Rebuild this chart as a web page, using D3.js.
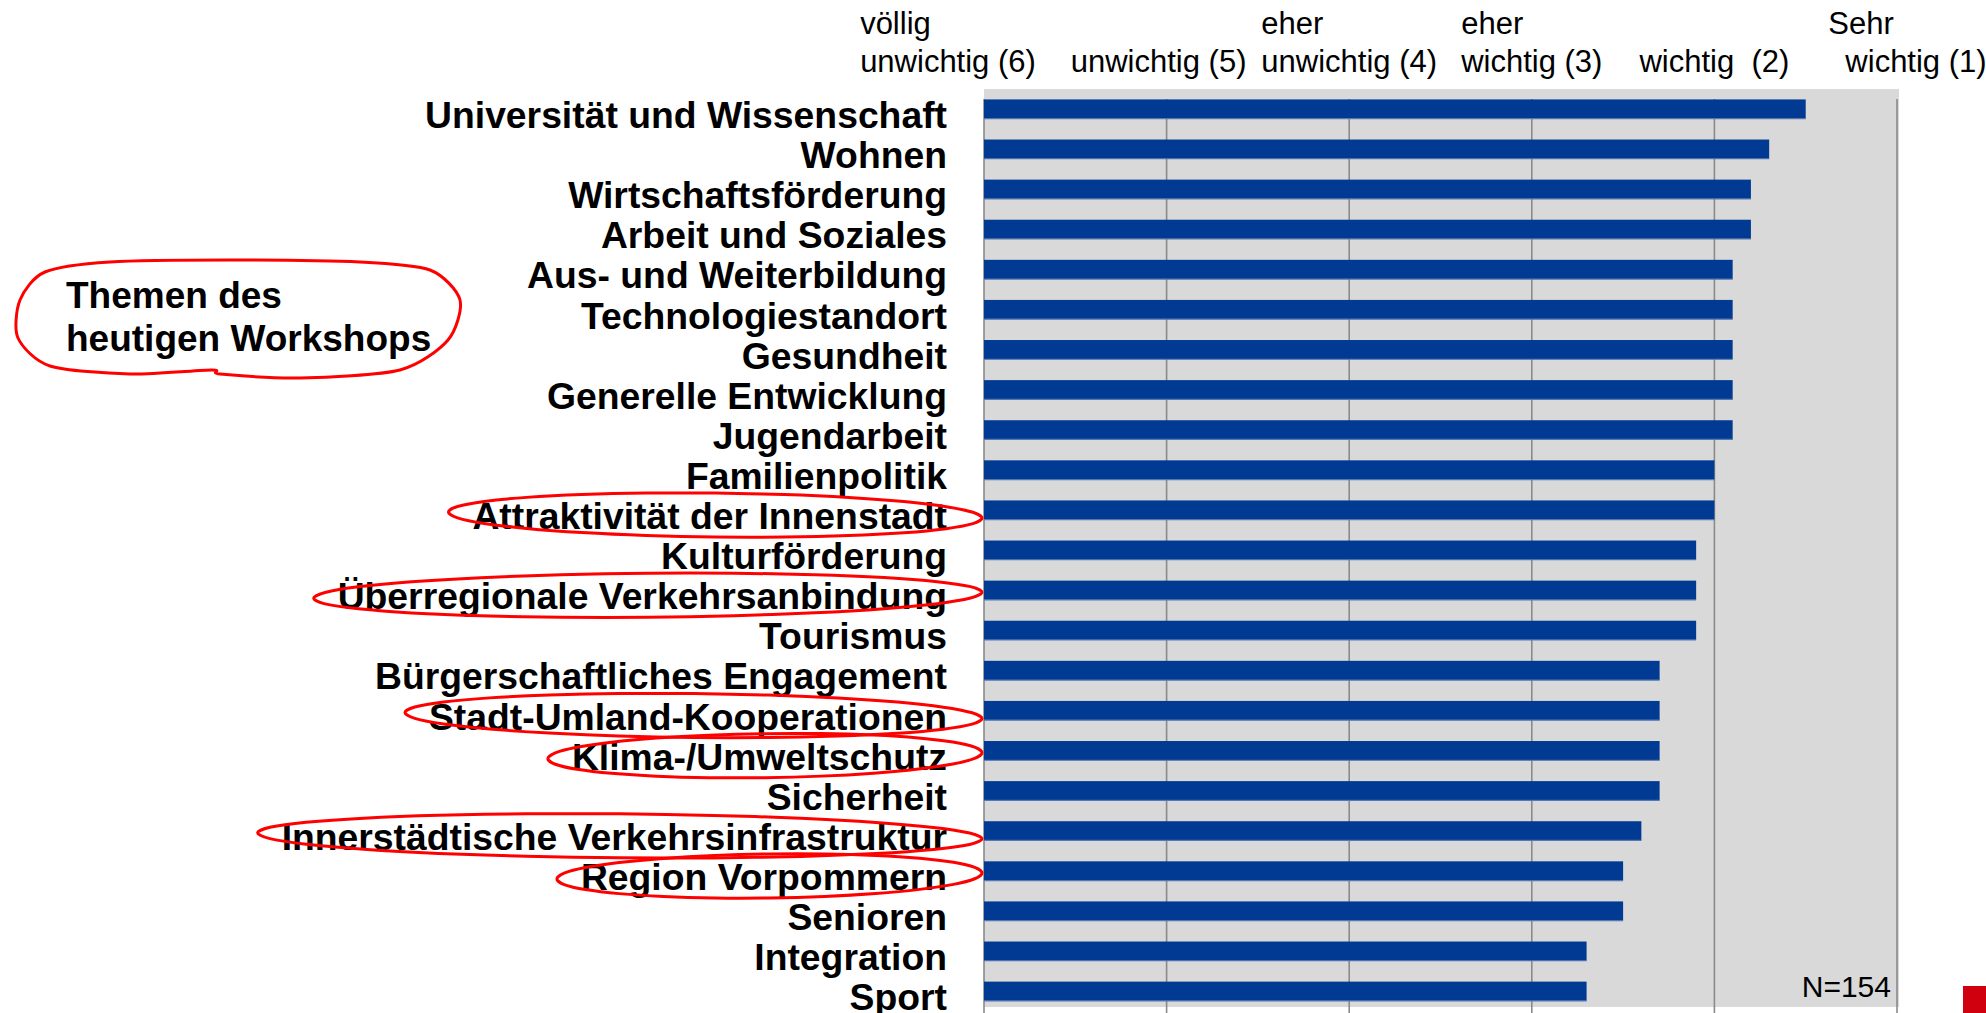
<!DOCTYPE html>
<html>
<head>
<meta charset="utf-8">
<script src="https://cdn.jsdelivr.net/npm/d3@7"></script>
<style>
  html, body { margin: 0; padding: 0; background: #fff; overflow: hidden; }
  svg { display: block; font-family: "Liberation Sans", Arial, sans-serif; }
</style>
</head>
<body>
<svg id="chart"></svg>
<script>
// survey data: mean rating per topic (1 = sehr wichtig ... 6 = völlig unwichtig)
var categories = [
	'Universität und Wissenschaft', 'Wohnen', 'Wirtschaftsförderung', 'Arbeit und Soziales',
	'Aus- und Weiterbildung', 'Technologiestandort', 'Gesundheit', 'Generelle Entwicklung',
	'Jugendarbeit', 'Familienpolitik', 'Attraktivität der Innenstadt', 'Kulturförderung',
	'Überregionale Verkehrsanbindung', 'Tourismus', 'Bürgerschaftliches Engagement',
	'Stadt-Umland-Kooperationen', 'Klima-/Umweltschutz', 'Sicherheit',
	'Innerstädtische Verkehrsinfrastruktur', 'Region Vorpommern', 'Senioren', 'Integration', 'Sport'
];
var values = [1.5, 1.7, 1.8, 1.8, 1.9, 1.9, 1.9, 1.9, 1.9, 2.0, 2.0, 2.1, 2.1, 2.1, 2.3, 2.3, 2.3, 2.3, 2.4, 2.5, 2.5, 2.7, 2.7];

var tickValues = [6, 5, 4, 3, 2, 1];
var tickLabels = [
	['völlig', 'unwichtig (6)'],
	['', 'unwichtig (5)'],
	['eher', 'unwichtig (4)'],
	['eher', 'wichtig (3)'],
	['', 'wichtig  (2)'],
	['Sehr', 'wichtig (1)']
];

var workshopTopics = [
	'Attraktivität der Innenstadt', 'Überregionale Verkehrsanbindung', 'Stadt-Umland-Kooperationen',
	'Klima-/Umweltschutz', 'Innerstädtische Verkehrsinfrastruktur', 'Region Vorpommern'
];
var noteLines = ['Themen des', 'heutigen Workshops'];
var sampleNote = 'N=154';

var width = 1986;
var height = 1013;

var plot = {left: 984, right: 1897, top: 89, bottom: 1007};

var chart = d3.select('#chart')
	.attr('width', width)
	.attr('height', height);

var x = d3.scaleLinear()
	.domain([6, 1])
	.range([plot.left, plot.right]);

var y = d3.scaleBand()
	.domain(categories)
	.range([plot.top, plot.top + 23 * 40.1])
	.paddingInner(0.52)
	.paddingOuter(0.26);

// background
chart.append('rect')
	.attr('x', plot.left)
	.attr('y', plot.top)
	.attr('width', plot.right - plot.left + 2)
	.attr('height', plot.bottom - plot.top)
	.style('fill', '#d9d9d9');

// grid lines
chart.selectAll('line.grid')
	.data(tickValues)
	.enter()
	.append('line')
	.attr('class', 'grid')
	.attr('x1', function(d) { return x(d); })
	.attr('x2', function(d) { return x(d); })
	.attr('y1', plot.top + 10)
	.attr('y2', height)
	.style('stroke', '#8a8a8a')
	.style('stroke-width', 1.6);

// bars
var bars = chart.selectAll('g.bar')
	.data(categories)
	.enter()
	.append('g')
	.attr('class', 'bar');

bars.append('rect')
	.attr('x', x(6))
	.attr('y', function(d) { return y(d); })
	.attr('width', function(d, i) { return x(values[i]) - x(6); })
	.attr('height', y.bandwidth())
	.style('fill', '#003a92');

bars.append('line')
	.attr('x1', x(6))
	.attr('x2', function(d, i) { return x(values[i]); })
	.attr('y1', function(d) { return y(d) + y.bandwidth(); })
	.attr('y2', function(d) { return y(d) + y.bandwidth(); })
	.style('stroke', '#5677b4')
	.style('stroke-width', 1.2);

// category labels
var labels = chart.selectAll('text.cat')
	.data(categories)
	.enter()
	.append('text')
	.attr('class', 'cat')
	.attr('x', 947)
	.attr('y', function(d) { return y(d) + y.bandwidth() / 2 + 19; })
	.attr('text-anchor', 'end')
	.style('font-weight', 'bold')
	.style('font-size', '37.3px')
	.style('fill', '#000')
	.text(function(d) { return d; });

// scale labels on top
var tickGroups = chart.selectAll('g.tick-label')
	.data(tickValues)
	.enter()
	.append('g')
	.attr('class', 'tick-label');

tickGroups.each(function(d, i) {
	var g = d3.select(this);
	var lines = tickLabels[i];
	var t2 = g.append('text')
		.attr('y', 72)
		.style('font-size', '31px')
		.style('white-space', 'pre')
		.text(lines[1]);
	var w = t2.node().getComputedTextLength();
	var start = x(d) - w / 2;
	// the text boxes on the slide were placed by hand
	if (i === 0) start -= 36;
	if (i === 1) start -= 8;
	if (i === 5) start += 19;
	t2.attr('x', start);
	g.append('text')
		.attr('x', start + (i === 5 ? -17 : 0))
		.attr('y', 34)
		.style('font-size', '31px')
		.text(lines[0]);
});

// sample size
chart.append('text')
	.attr('x', 1891)
	.attr('y', 997)
	.attr('text-anchor', 'end')
	.style('font-size', '30px')
	.text(sampleNote);

// red marker at bottom right
chart.append('rect')
	.attr('x', 1963)
	.attr('y', 986)
	.attr('width', 30)
	.attr('height', 30)
	.style('fill', '#d0000e');

// hand-drawn rings around workshop topics
var ring = d3.line().curve(d3.curveCardinalClosed.tension(0.2));

labels.filter(function(d) { return workshopTopics.indexOf(d) >= 0; })
	.each(function(d, i) {
		var b = this.getBBox();
		var x0 = b.x - 24;
		var x1 = plot.left - 2;
		var cy = y(d) + y.bandwidth() / 2 + 5;
		var cx = (x0 + x1) / 2;
		var rx = (x1 - x0) / 2;
		var ry = 22;
		var tilt = (i % 2 === 0 ? 1 : -1) * 3;
		var pts = d3.range(0, 24).map(function(k) {
			var a = k / 24 * Math.PI * 2;
			return [cx + rx * Math.cos(a), cy + ry * Math.sin(a) + tilt * Math.cos(a)];
		});
		chart.append('path')
			.attr('d', ring(pts))
			.style('fill', 'none')
			.style('stroke', '#ff0000')
			.style('stroke-width', 3);
	});

// note with ring
var note = chart.append('g').attr('class', 'note');
note.selectAll('text')
	.data(noteLines)
	.enter()
	.append('text')
	.attr('x', 66)
	.attr('y', function(d, i) { return 308 + i * 43; })
	.style('font-weight', 'bold')
	.style('font-size', '37px')
	.text(function(d) { return d; });

var blob = [
	[20, 300], [45, 272], [110, 262], [230, 260], [360, 262], [430, 270],
	[460, 300], [448, 340], [400, 370], [300, 378], [220, 374], [212, 370],
	[130, 374], [50, 366], [18, 338]
];
note.append('path')
	.attr('d', ring(blob))
	.style('fill', 'none')
	.style('stroke', '#ff0000')
	.style('stroke-width', 3);
</script>
</body>
</html>
